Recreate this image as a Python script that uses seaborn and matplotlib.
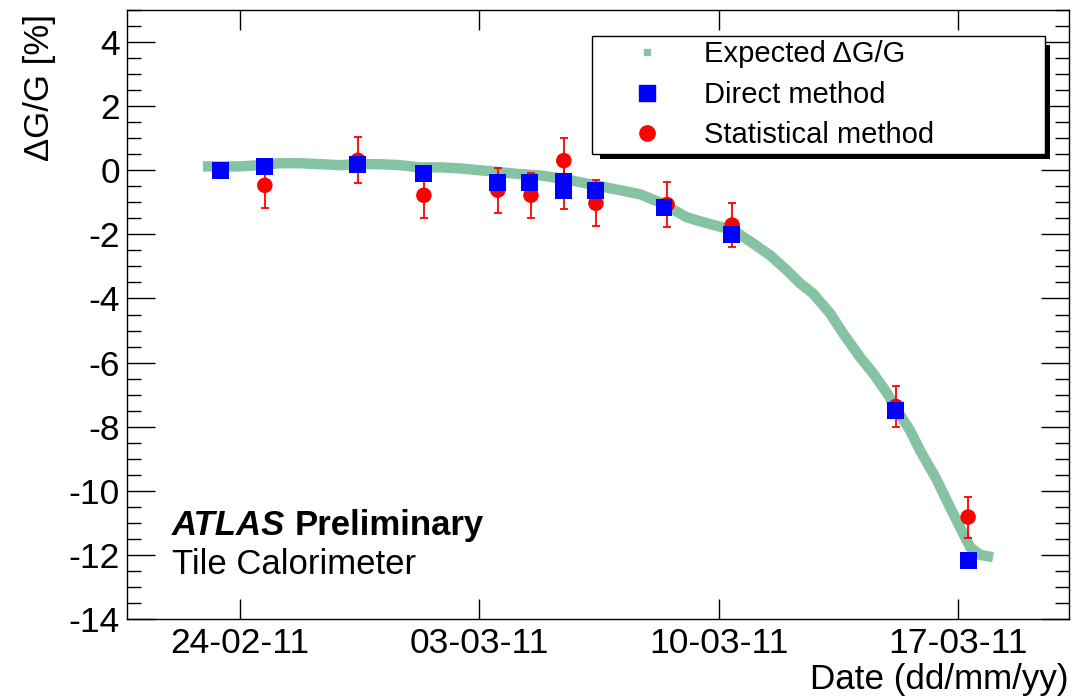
import numpy as np
import pandas as pd
import matplotlib
matplotlib.use('Agg')
import matplotlib.pyplot as plt
import matplotlib.dates as mdates
from matplotlib.lines import Line2D
from matplotlib.patches import Rectangle
import seaborn as sns

# all times are days since 24-02-11 00:00
start = pd.Timestamp('2011-02-24')

# expected dG/G (laser band)
exp_days = [-1.08, -0.58, 0.0, 0.58, 1.17, 1.75, 2.34, 2.92, 3.51, 4.09, 4.68,
            5.26, 5.85, 6.43, 7.02, 7.60, 8.19, 8.77, 9.36, 9.94, 10.53, 11.11,
            11.70, 12.28, 13.07, 13.65, 14.42, 15.00, 15.50, 15.99, 16.37, 16.75,
            17.25, 17.63, 18.13, 18.51, 18.92, 19.21, 19.59, 19.88, 20.38, 20.76,
            21.14, 21.35, 21.64, 22.02]
exp_gain = [0.12, 0.12, 0.12, 0.16, 0.22, 0.22, 0.19, 0.16, 0.19, 0.19, 0.16,
            0.09, 0.09, 0.06, 0.00, -0.06, -0.12, -0.16, -0.25, -0.37, -0.50, -0.62,
            -0.75, -1.00, -1.47, -1.65, -1.87, -2.28, -2.65, -3.12, -3.52, -3.84,
            -4.46, -5.08, -5.83, -6.33, -6.95, -7.48, -8.11, -8.73, -9.67, -10.51,
            -11.32, -11.76, -12.00, -12.07]

# direct method
direct_days = [-0.56, 0.73, 3.45, 5.38, 7.54, 8.48, 9.47, 9.47, 10.41, 12.40, 14.36, 19.18, 21.29]
direct_gain = [0.00, 0.12, 0.19, -0.09, -0.37, -0.37, -0.34, -0.62, -0.64, -1.15, -2.00, -7.50, -12.17]

# statistical method
stat_days = [0.73, 3.45, 5.38, 7.54, 8.51, 9.47, 9.47, 10.41, 12.49, 14.39, 19.18, 21.29]
stat_gain = [-0.47, 0.31, -0.78, -0.62, -0.78, 0.30, -0.50, -1.03, -1.07, -1.71, -7.37, -10.82]
stat_err = [0.72, 0.72, 0.72, 0.70, 0.70, 0.72, 0.72, 0.72, 0.70, 0.69, 0.64, 0.64]

xtick_dates = ['2011-02-24', '2011-03-03', '2011-03-10', '2011-03-17']
ytick_vals = [-14, -12, -10, -8, -6, -4, -2, 0, 2, 4]


def to_dates(days):
    return start + pd.to_timedelta(np.array(days), unit='D')


sns.set_style('ticks')
plt.rcParams['font.family'] = ['Liberation Sans', 'DejaVu Sans']
plt.rcParams['axes.unicode_minus'] = False
for k in ['text.color', 'axes.labelcolor', 'xtick.color', 'ytick.color', 'axes.edgecolor']:
    plt.rcParams[k] = 'black'

W, H = 1072, 698
fig = plt.figure(figsize=(W / 100, H / 100), dpi=100)
ax = fig.add_axes([127 / W, 1 - 619 / H, 942 / W, 609 / H])

green = '#86c3a3'
sns.lineplot(x=to_dates(exp_days), y=exp_gain, ax=ax, color=green, lw=7.5,
             solid_capstyle='butt', zorder=1)
ax.errorbar(to_dates(stat_days), stat_gain, yerr=stat_err, fmt='none', ecolor='red',
            elinewidth=1.3, capsize=3, capthick=1.3, zorder=2)
sns.scatterplot(x=to_dates(stat_days), y=stat_gain, ax=ax, color='red', marker='o',
                s=125, edgecolor='none', zorder=3)
sns.scatterplot(x=to_dates(direct_days), y=direct_gain, ax=ax, color='blue', marker='s',
                s=149, edgecolor='none', zorder=4)

ax.set_xlim(start + pd.Timedelta(days=-3.30), start + pd.Timedelta(days=24.24))
ax.set_ylim(-14, 5)
ax.set_xticks(pd.to_datetime(xtick_dates))
ax.xaxis.set_major_formatter(mdates.DateFormatter('%d-%m-%y'))
ax.set_yticks(ytick_vals)
ax.yaxis.set_minor_locator(matplotlib.ticker.MultipleLocator(0.5))
ax.set_xlabel('')
ax.set_ylabel('')

ax.tick_params(axis='y', which='major', direction='in', length=20, width=1,
               left=True, right=True, labelsize=25.5, pad=5)
ax.tick_params(axis='y', which='minor', direction='in', length=10, width=1,
               left=True, right=True)
ax.tick_params(axis='x', which='major', direction='in', length=14.4, width=1,
               top=True, bottom=True, labelsize=25.5, pad=6)
ax.tick_params(axis='x', which='minor', top=False, bottom=False)
for s in ax.spines.values():
    s.set_linewidth(1.0)
    s.set_color('black')
    s.set_visible(True)

fig.text(1068 / W, 1 - 663 / H, 'Date (dd/mm/yy)', ha='right', va='top', fontsize=25.2)
fig.text(40 / W, 1 - 14 / H, '\u0394G/G [%]', ha='center', va='top', rotation=90, fontsize=25)

fig.text(172 / W, 1 - 535 / H, 'ATLAS', fontsize=25, fontweight='bold',
         fontstyle='italic', va='baseline')
fig.text(295 / W, 1 - 535 / H, 'Preliminary', fontsize=25, fontweight='bold', va='baseline')
fig.text(172 / W, 1 - 574 / H, 'Tile Calorimeter', fontsize=25, va='baseline')

handles = [
    Line2D([], [], ls='none', marker='s', color=green, markersize=4),
    Line2D([], [], ls='none', marker='s', color='blue', markersize=12),
    Line2D([], [], ls='none', marker='o', color='red', markersize=11),
]
labels = ['Expected \u0394G/G', 'Direct method', 'Statistical method']
leg = ax.legend(handles, labels, loc='upper left',
                bbox_to_anchor=(0.4936, 0.9573, 0.4809, 0), mode='expand',
                borderaxespad=0, fontsize=21, frameon=True, fancybox=False,
                edgecolor='black', framealpha=1, borderpad=0.15,
                handlelength=3.47, handletextpad=0.22, labelspacing=0.43)
leg.get_frame().set_linewidth(1.0)

# ROOT style black shadow on the legend box
fig.canvas.draw()
bb = leg.get_frame().get_window_extent()
sh = 5
fig.add_artist(Rectangle(((bb.x1) / W, (bb.y0 - sh) / H), sh / W, (bb.height - 9 + sh) / H,
                         transform=fig.transFigure, color='black', lw=0))
fig.add_artist(Rectangle(((bb.x0 + 8) / W, (bb.y0 - sh) / H), (bb.width - 8 + sh) / W, sh / H,
                         transform=fig.transFigure, color='black', lw=0))

fig.savefig('out.png', dpi=100)
